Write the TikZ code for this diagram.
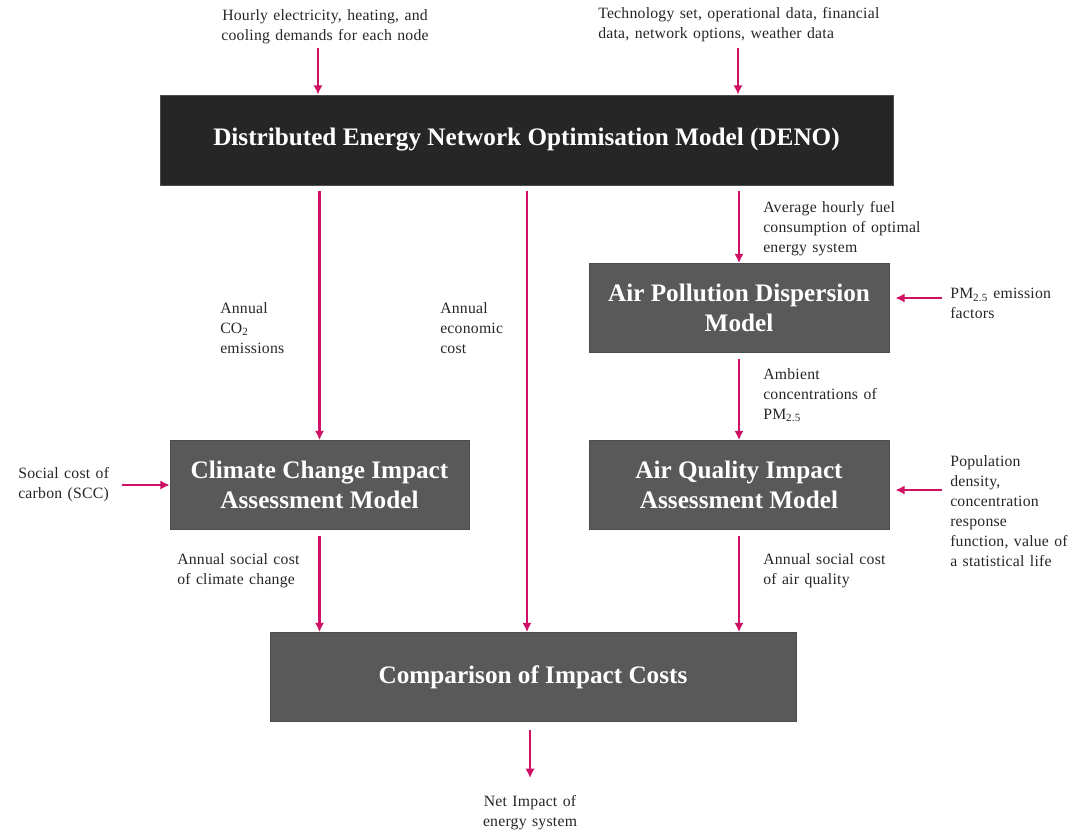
\documentclass[tikz,border=0pt]{standalone}
\usepackage{fontspec}
\setmainfont{Liberation Serif}
\newfontfamily\lblfont{Liberation Serif}[LetterSpace=1.5,WordSpace=1.3]
\usetikzlibrary{arrows.meta}
\definecolor{flowred}{RGB}{206,17,101}
\definecolor{boxgrey}{RGB}{89,89,89}
\definecolor{boxdark}{RGB}{38,38,38}
\begin{document}
\begin{tikzpicture}[x=0.75pt,y=-0.75pt,
  box/.style={draw=black!70,line width=0.6pt,fill=boxgrey,text=white,inner sep=0pt,
    font=\fontsize{18.9}{22.5}\selectfont\bfseries,align=center},
  label/.style={inner sep=0pt,font=\lblfont\fontsize{11.8}{15}\selectfont,align=left,text=black!85},
  flow/.style={draw=flowred,line width=1.6pt,-{Latex[length=7pt,width=7pt]}}]
\useasboundingbox (0,0) rectangle (1083,832);

% model boxes
\node[box,fill=boxdark,minimum width=733*0.75pt,minimum height=90*0.75pt] (deno) at (526.5,140)
  {Distributed Energy Network Optimisation Model (DENO)};
\node[box,minimum width=300*0.75pt,minimum height=89*0.75pt] (apd) at (739,308)
  {Air Pollution Dispersion\\Model};
\node[box,minimum width=299*0.75pt,minimum height=89*0.75pt] (clim) at (319.5,485)
  {Climate Change Impact\\Assessment Model};
\node[box,minimum width=300*0.75pt,minimum height=89*0.75pt] (aq) at (739,485)
  {Air Quality Impact\\Assessment Model};
\node[box,minimum width=526*0.75pt,minimum height=89*0.75pt] (comp) at (533,677)
  {Comparison of Impact Costs};

% text labels
\node[label,align=center] (demand) at (325,27)
  {Hourly electricity, heating, and\\cooling demands for each node};
\node[label,anchor=north west] (tech) at (598,7)
  {Technology set, operational data, financial\\data, network options, weather data};
\node[label,anchor=north west] (fuel) at (763,201)
  {Average hourly fuel\\consumption of optimal\\energy system};
\node[label,anchor=north west] (pmef) at (950,288)
  {PM\textsubscript{2.5} emission\\factors};
\node[label,anchor=north west] (co2) at (220,302)
  {Annual\\CO\textsubscript{2}\\emissions};
\node[label,anchor=north west] (econ) at (440,302)
  {Annual\\economic\\cost};
\node[label,anchor=north west] (ambient) at (763,368)
  {Ambient\\concentrations of\\PM\textsubscript{2.5}};
\node[label,anchor=north west] (scc) at (18,467)
  {Social cost of\\carbon (SCC)};
\node[label,anchor=north west] (pop) at (950,455)
  {Population\\density,\\concentration\\response\\function, value of\\a statistical life};
\node[label,anchor=north west] (sccc) at (177,553)
  {Annual social cost\\of climate change};
\node[label,anchor=north west] (scaq) at (763,553)
  {Annual social cost\\of air quality};
\node[label,align=center] (net) at (530,813)
  {Net Impact of\\energy system};

% free ends of the input and output arrows
\coordinate (in1) at (318,48);
\coordinate (in2) at (738,48);
\coordinate (inpm) at (942,298);
\coordinate (inscc) at (122,485);
\coordinate (inpop) at (942,490);
\coordinate (out) at (530,778);
\coordinate (xecon) at (527,0);

% connectors
\draw[flow] (in1) -- (in1 |- deno.north);
\draw[flow] (in2) -- (in2 |- deno.north);
\draw[flow,shorten <=4.5pt] (deno.south -| clim.north) -- (clim.north);
\draw[flow,shorten <=4.5pt] (deno.south -| xecon) -- (comp.north -| xecon);
\draw[flow,shorten <=4.5pt] (deno.south -| apd.north) -- (apd.north);
\draw[flow,shorten <=4.5pt] (apd.south) -- (aq.north);
\draw[flow,shorten <=4.5pt] (clim.south) -- (comp.north -| clim.south);
\draw[flow,shorten <=4.5pt] (aq.south) -- (comp.north -| aq.south);
\draw[flow,shorten <=6pt] (comp.south -| out) -- (out);
\draw[flow,shorten >=4.5pt] (inpm) -- (inpm -| apd.east);
\draw[flow] (inscc) -- (inscc -| clim.west);
\draw[flow,shorten >=4.5pt] (inpop) -- (inpop -| aq.east);
\end{tikzpicture}
\end{document}
